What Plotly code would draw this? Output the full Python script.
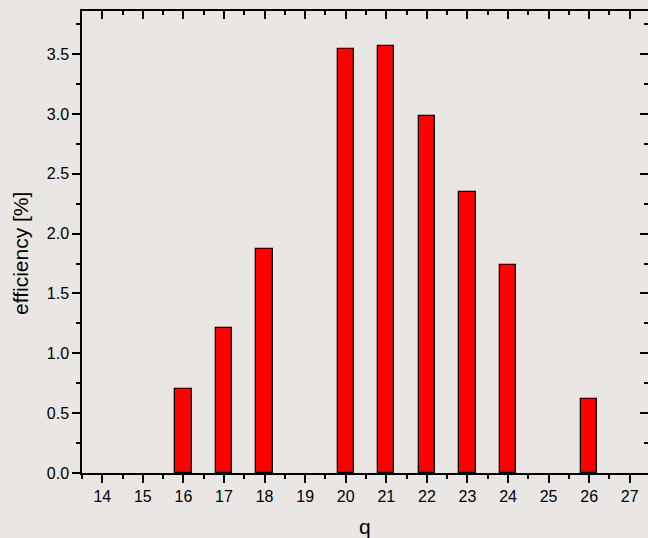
import plotly.graph_objects as go

q = [16, 17, 18, 20, 21, 22, 23, 24, 26]
efficiency = [0.70, 1.21, 1.87, 3.545, 3.57, 2.98, 2.35, 1.74, 0.62]
x_ticks = list(range(14, 28))
y_ticks = [0.0, 0.5, 1.0, 1.5, 2.0, 2.5, 3.0, 3.5]

BG = "#e9e6e3"
FONT = "Liberation Sans, Arial, sans-serif"
xr = [13.5, 27.45]
yr = [0, 3.86]

fig = go.Figure()
fig.add_trace(go.Bar(x=q, y=efficiency, width=0.4,
                     marker=dict(color="#ff0000", line=dict(color="black", width=1.3)),
                     showlegend=False))
fig.add_trace(go.Scatter(x=[None], y=[None], xaxis="x2", yaxis="y2", showlegend=False))

common = dict(showgrid=False, zeroline=False, showline=True, linecolor="black",
              linewidth=1.5, tickcolor="black", tickwidth=1.5)

fig.update_layout(
    width=648, height=538,
    paper_bgcolor=BG, plot_bgcolor=BG,
    margin=dict(l=82, r=0, t=11, b=65),
    font=dict(family=FONT, size=16, color="black"),
    bargap=0,
    xaxis=dict(range=xr, tickvals=x_ticks, ticks="outside", ticklen=8,
               minor=dict(dtick=0.5, tick0=13.5, ticks="outside", ticklen=4, tickcolor="black", tickwidth=1.5),
               **common),
    xaxis2=dict(range=xr, overlaying="x", side="top", tickvals=x_ticks, ticks="inside", ticklen=8,
                minor=dict(dtick=0.5, tick0=13.5, ticks="inside", ticklen=4, tickcolor="black", tickwidth=1.5),
                showticklabels=False, **common),
    yaxis=dict(range=yr, tickvals=y_ticks, tickformat=".1f", ticks="outside", ticklen=8,
               minor=dict(dtick=0.25, tick0=0, ticks="outside", ticklen=4, tickcolor="black", tickwidth=1.5),
               **common),
    yaxis2=dict(range=yr, overlaying="y", side="right", tickvals=y_ticks, ticks="inside", ticklen=8,
                minor=dict(dtick=0.25, tick0=0, ticks="inside", ticklen=4, tickcolor="black", tickwidth=1.5),
                showticklabels=False, **common),
    annotations=[
        dict(text="efficiency [%]", textangle=-90, xref="paper", yref="paper",
             x=0, y=(473 - 254) / 462, xshift=-62, xanchor="center", yanchor="middle",
             showarrow=False, font=dict(size=21)),
        dict(text="q", xref="paper", yref="paper", x=0.5, y=0, yshift=-(526 - 473),
             xanchor="center", yanchor="middle", showarrow=False, font=dict(size=21)),
    ],
)

fig.write_html("out.html", config={"displayModeBar": False},
               post_script="document.body.style.margin='0px';document.body.style.overflow='hidden';")
